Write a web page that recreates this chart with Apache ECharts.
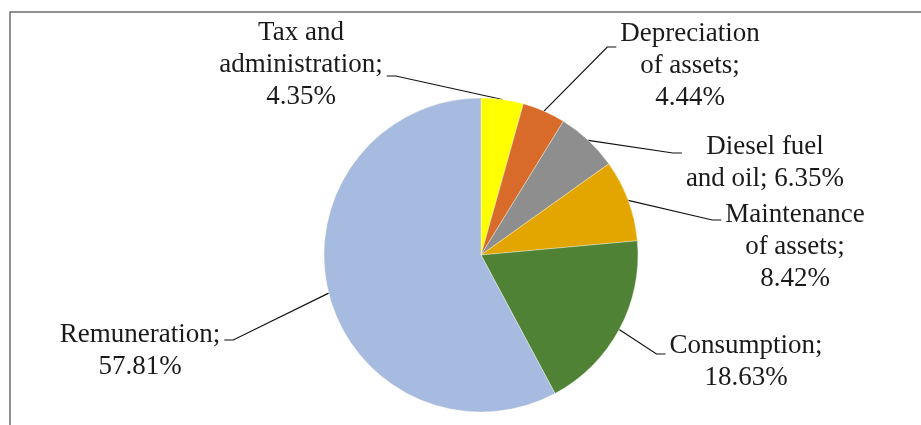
<!DOCTYPE html>
<html>
<head>
<meta charset="utf-8">
<script src="https://cdn.jsdelivr.net/npm/echarts@6/dist/echarts.min.js"></script>
<style>html,body{margin:0;padding:0;background:#fff;}#c{width:921px;height:425px;}</style>
</head>
<body>
<div id="c"></div>
<script>
// ---- data ----
const categories = ['Tax and\nadministration', 'Depreciation\nof assets', 'Diesel fuel\nand oil', 'Maintenance\nof assets', 'Consumption', 'Remuneration'];
const values = [4.35, 4.44, 6.35, 8.42, 18.63, 57.81];
const valueLabels = ['4.35%', '4.44%', '6.35%', '8.42%', '18.63%', '57.81%'];

// ---- style / layout ----
const colors = ['#FFFF00', '#D86B2A', '#8E8E8E', '#E3A500', '#4F8235', '#A7BADF'];
const valueSeparators = ['\n', '\n', ' ', '\n', '\n', '\n'];
const labelCenters = [[301, 65], [690, 66], [765, 163], [795, 247], [746, 362], [140, 351]];
const leaderDy = [11, -19, -10, -27, -8, -11];
const CX = 481, CY = 255, R = 157;

const total = values.reduce((a, b) => a + b, 0);
const midAngles = [];
let acc = 0;
values.forEach(v => { midAngles.push((acc + v / 2) / total * 2 * Math.PI); acc += v; });

const chart = echarts.init(document.getElementById('c'), null, {renderer: 'canvas'});
chart.setOption({
  backgroundColor: '#ffffff',
  animation: false,
  graphic: [{
    type: 'rect', shape: {x: 10, y: 12, width: 940, height: 440},
    style: {fill: 'none', stroke: '#6e6e6e', lineWidth: 1.5}, silent: true
  }],
  series: [{
    type: 'pie',
    center: [CX, CY],
    radius: R,
    startAngle: 90,
    clockwise: true,
    avoidLabelOverlap: false,
    data: categories.map((n, i) => ({
      name: n, value: values[i],
      itemStyle: {color: colors[i]}
    })),
    itemStyle: {borderColor: 'rgba(255,255,240,0.6)', borderWidth: 0.6},
    label: {
      show: true, position: 'outside',
      fontFamily: 'Liberation Serif', fontSize: 27, lineHeight: 32,
      color: '#1a1a1a', align: 'center',
      formatter: p => p.name + ';' + valueSeparators[p.dataIndex] + valueLabels[p.dataIndex]
    },
    labelLine: {show: true, lineStyle: {color: '#111111', width: 1.2}},
    labelLayout: function (p) {
      const i = p.dataIndex;
      const c = labelCenters[i];
      const w = p.labelRect.width;
      const a = midAngles[i];
      const ex = CX + R * Math.sin(a), ey = CY - R * Math.cos(a);
      const ay = c[1] + leaderDy[i];
      const left = c[0] < CX;
      const side = left ? c[0] + w / 2 + 4 : c[0] - w / 2 - 4;
      const elbow = left ? side + 9 : side - 9;
      return {
        x: c[0], y: c[1], align: 'center', verticalAlign: 'middle',
        labelLinePoints: [[ex, ey], [elbow, ay], [side, ay]]
      };
    }
  }]
});
</script>
</body>
</html>
